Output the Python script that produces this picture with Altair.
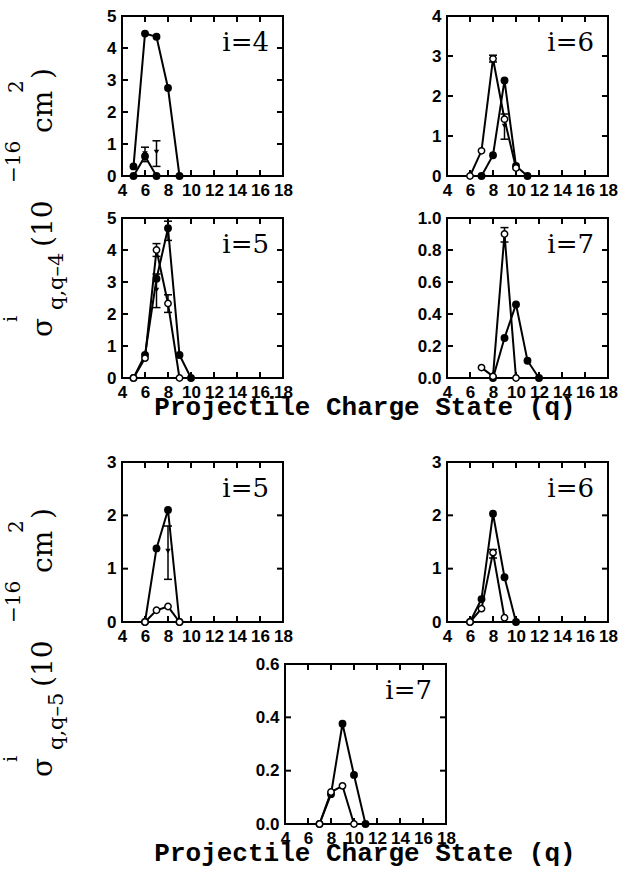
import altair as alt
import pandas as pd

# ---------------- data ----------------
XTICKS = [4, 6, 8, 10, 12, 14, 16, 18]
XINNER = [6, 8, 10, 12, 14, 16]

# upper group: sigma^i_{q,q-4}
t4_qa = [5, 6, 7, 8, 9]
t4_va = [0.3, 4.45, 4.35, 2.75, 0.0]
t4_qb = [5, 6, 7]
t4_vb = [0.0, 0.62, 0.0]
t4_eq = [6, 7]
t4_ev = [0.7, 0.75]
t4_elo = [0.45, 0.3]
t4_ehi = [0.9, 1.1]

t6_qa = [7, 8, 9, 10, 11]
t6_va = [0.0, 0.52, 2.39, 0.25, 0.0]
t6_qb = [6, 7, 8, 9, 10]
t6_vb = [0.0, 0.63, 2.93, 1.42, 0.2]
t6_eq = [8, 9]
t6_ev = [2.93, 1.25]
t6_elo = [2.85, 0.92]
t6_ehi = [3.02, 1.55]

t5_qa = [5, 6, 7, 8, 9, 10]
t5_va = [0.0, 0.72, 3.1, 4.68, 0.72, 0.0]
t5_qb = [5, 6, 7, 8, 9]
t5_vb = [0.0, 0.62, 4.0, 2.33, 0.0]
t5_eq = [7, 7, 8, 8]
t5_ev = [4.0, 2.75, 4.6, 2.33]
t5_elo = [3.8, 2.2, 4.3, 2.05]
t5_ehi = [4.2, 3.25, 4.9, 2.6]

t7_qa = [8, 9, 10, 11, 12]
t7_va = [0.0, 0.25, 0.46, 0.108, 0.0]
t7_qb = [7, 8, 9, 10]
t7_vb = [0.065, 0.01, 0.9, 0.0]
t7_eq = [9]
t7_ev = [0.9]
t7_elo = [0.85]
t7_ehi = [0.94]

# lower group: sigma^i_{q,q-5}
b5_qa = [6, 7, 8, 9]
b5_va = [0.0, 1.38, 2.1, 0.0]
b5_qb = [6, 7, 8, 9]
b5_vb = [0.0, 0.22, 0.29, 0.0]
b5_eq = [8]
b5_ev = [1.33]
b5_elo = [0.8]
b5_ehi = [1.8]

b6_qa = [6, 7, 8, 9, 10]
b6_va = [0.0, 0.43, 2.03, 0.84, 0.0]
b6_qb = [6, 7, 8, 9]
b6_vb = [0.0, 0.25, 1.3, 0.08]
b6_eq = [8]
b6_ev = [1.28]
b6_elo = [1.2]
b6_ehi = [1.36]

b7_qa = [7, 8, 9, 10, 11]
b7_va = [0.0, 0.112, 0.376, 0.184, 0.0]
b7_qb = [7, 8, 9, 10]
b7_vb = [0.0, 0.12, 0.143, 0.0]
b7_eq = []
b7_ev = []
b7_elo = []
b7_ehi = []

XTITLE = "Projectile Charge State (q)"

# ---------------- layout ----------------
W = 161
H = 160
GAP = 42
COLSP = 164
SHIFT7 = 163          # horizontal shift of the centred bottom panel
X0, Y0 = 122, 16
ROWY = [Y0, Y0 + H + GAP, Y0 + 2 * (H + GAP), Y0 + 3 * (H + GAP) + GAP]

SERIF = "DejaVu Serif"
SANS = "Liberation Sans"


def x_axis():
    return alt.Axis(values=XTICKS, format="d", labelFont=SANS, labelFontWeight="bold",
                    labelFontSize=17, labelColor="black", ticks=False, domain=False,
                    grid=False, labelPadding=6, labelFlush=False, labelOverlap=False,
                    title=None)


def y_axis(vals, fmt, offset=0):
    kw = dict(values=vals, format=fmt, labelFont=SANS, labelFontWeight="bold",
              labelFontSize=17, labelColor="black", ticks=False, domain=False,
              grid=False, labelPadding=6, labelFlush=False, labelOverlap=False,
              title=None)
    if offset:
        kw["offset"] = offset
    return alt.Axis(**kw)


def text_layer(txt, x, y, size, font, align="left", angle=None, weight="normal"):
    kw = dict(align=align, baseline="alphabetic", font=font, fontSize=size,
              fontWeight=weight, color="black")
    if angle is not None:
        kw["angle"] = angle
    return alt.Chart(pd.DataFrame({"t": [txt]})).mark_text(**kw).encode(
        text="t:N", x=alt.value(x), y=alt.value(y))


def ylabel_layers(sub, dy, ox, oy):
    segs = [("σ", 52, 337, 28), ("i", 17, 322, 19), ("q,q–" + sub, 63, 310, 21),
            ("(10", 52, 247, 28), ("−16", 20, 183, 20), ("cm", 52, 133, 28),
            ("2", 23, 93, 20), (")", 52, 79, 28)]
    return [text_layer(t, sx - ox, sy + dy - oy, fs, SERIF, angle=270) for t, sx, sy, fs in segs]


def anchor(x, y):
    return alt.Chart(pd.DataFrame({"a": [0]})).mark_rect(color="white", opacity=1).encode(
        x=alt.value(x), x2=alt.value(x + 1), y=alt.value(y), y2=alt.value(y + 1))


def panel(label, ymax, yvals, yfmt, qa, va, qb, vb, b_open, eq, ev, elo, ehi,
          top=0, left=0, extras=()):
    h = H + top
    xl, xr = left, left + W
    xs = alt.Scale(domain=[4, 18], nice=False, zero=False, range=[xl, xr])
    ys = alt.Scale(domain=[0, ymax], nice=False, zero=False, range=[h, top])
    ya = y_axis(yvals, yfmt, offset=-left)
    xa = x_axis()

    def X():
        return alt.X("q:Q", scale=xs, axis=xa)

    def Y(f="v"):
        return alt.Y(f + ":Q", scale=ys, axis=ya)

    one = pd.DataFrame({"a": [0]})
    L = []
    L.append(alt.Chart(one).mark_rect(fillOpacity=0, stroke="black", strokeWidth=2).encode(
        x=alt.value(xl), x2=alt.value(xr), y=alt.value(top), y2=alt.value(h)))
    xt = pd.DataFrame({"q": XINNER})
    L.append(alt.Chart(xt).mark_rule(color="black", strokeWidth=2).encode(
        x=X(), y=alt.value(h), y2=alt.value(h - 6)))
    L.append(alt.Chart(xt).mark_rule(color="black", strokeWidth=2).encode(
        x=X(), y=alt.value(top), y2=alt.value(top + 6)))
    yt = pd.DataFrame({"v": yvals[1:-1]})
    L.append(alt.Chart(yt).mark_rule(color="black", strokeWidth=2).encode(
        y=Y(), x=alt.value(xl), x2=alt.value(xl + 6)))
    L.append(alt.Chart(yt).mark_rule(color="black", strokeWidth=2).encode(
        y=Y(), x=alt.value(xr - 6), x2=alt.value(xr)))
    da = pd.DataFrame({"q": qa, "v": va})
    db = pd.DataFrame({"q": qb, "v": vb})
    L.append(alt.Chart(da).mark_line(color="black", strokeWidth=2).encode(x=X(), y=Y()))
    L.append(alt.Chart(db).mark_line(color="black", strokeWidth=2).encode(x=X(), y=Y()))
    if eq:
        de = pd.DataFrame({"q": eq, "v": ev, "lo": elo, "hi": ehi})
        L.append(alt.Chart(de).mark_rule(color="black", strokeWidth=1.5).encode(
            x=X(), y=Y("lo"), y2=alt.Y2("hi")))
        L.append(alt.Chart(de).mark_tick(orient="horizontal", size=8, thickness=1.5,
                                         color="black", opacity=1).encode(x=X(), y=Y("lo")))
        L.append(alt.Chart(de).mark_tick(orient="horizontal", size=8, thickness=1.5,
                                         color="black", opacity=1).encode(x=X(), y=Y("hi")))
        L.append(alt.Chart(de).mark_point(shape="triangle-down", filled=True, size=30,
                                          color="black", opacity=1).encode(x=X(), y=Y()))
    L.append(alt.Chart(da).mark_circle(size=62, color="black", opacity=1).encode(x=X(), y=Y()))
    if b_open:
        L.append(alt.Chart(db).mark_point(filled=True, color="white", stroke="black",
                                          strokeWidth=1.5, size=40, opacity=1).encode(x=X(), y=Y()))
    else:
        L.append(alt.Chart(db).mark_circle(size=62, color="black", opacity=1).encode(x=X(), y=Y()))
    L.append(text_layer(label, xr - 14, top + 35, 26, SERIF, align="right"))
    L.extend(extras)
    return alt.layer(*L).properties(width=W, height=h)


Y5 = [0, 1, 2, 3, 4, 5]
Y4 = [0, 1, 2, 3, 4]
Y3 = [0, 1, 2, 3]
Y10 = [0.0, 0.2, 0.4, 0.6, 0.8, 1.0]
Y06 = [0.0, 0.2, 0.4, 0.6]

p4 = panel("i=4", 5, Y5, "d", t4_qa, t4_va, t4_qb, t4_vb, False,
           t4_eq, t4_ev, t4_elo, t4_ehi,
           extras=ylabel_layers("4", 0, X0, ROWY[0]) + [anchor(-X0, -Y0)])
p6 = panel("i=6", 4, Y4, "d", t6_qa, t6_va, t6_qb, t6_vb, True,
           t6_eq, t6_ev, t6_elo, t6_ehi)
p5 = panel("i=5", 5, Y5, "d", t5_qa, t5_va, t5_qb, t5_vb, True,
           t5_eq, t5_ev, t5_elo, t5_ehi,
           extras=[text_layer(XTITLE, 365 - X0, 415 - ROWY[1], 26, "Liberation Mono",
                              align="center", weight="bold")])
p7 = panel("i=7", 1.0, Y10, ".1f", t7_qa, t7_va, t7_qb, t7_vb, True,
           t7_eq, t7_ev, t7_elo, t7_ehi)
p5b = panel("i=5", 3, Y3, "d", b5_qa, b5_va, b5_qb, b5_vb, True,
            b5_eq, b5_ev, b5_elo, b5_ehi, top=GAP,
            extras=ylabel_layers("5", 440, X0, ROWY[2]))
p6b = panel("i=6", 3, Y3, "d", b6_qa, b6_va, b6_qb, b6_vb, True,
            b6_eq, b6_ev, b6_elo, b6_ehi, top=GAP)
p7b = panel("i=7", 0.6, Y06, ".1f", b7_qa, b7_va, b7_qb, b7_vb, True,
            b7_eq, b7_ev, b7_elo, b7_ehi, left=SHIFT7,
            extras=[text_layer(XTITLE, 365 - X0, 861 - ROWY[3], 26, "Liberation Mono",
                               align="center", weight="bold"),
                    anchor(620 - X0, 882 - ROWY[3])])

chart = alt.concat(p4, p6, p5, p7, p5b, p6b, p7b, columns=2,
                   spacing={"row": GAP, "column": COLSP}, bounds="flush",
                   align={"row": "each", "column": "all"}).properties(
    padding={"left": 0, "top": 0, "right": 0, "bottom": 0},
    background="white",
).configure_view(stroke=None)

chart.save("out.html", embed_options={"renderer": "svg", "actions": False})
